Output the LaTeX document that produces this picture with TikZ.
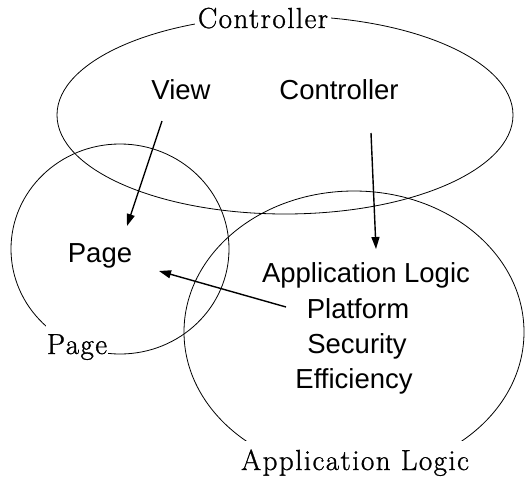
\documentclass[tikz,border=0pt]{standalone}
\usepackage{fontspec}
\newfontfamily\sansf{Liberation Sans}
\newfontfamily\serf[LetterSpace=5,FakeBold=1]{Latin Modern Roman}
\usetikzlibrary{arrows.meta}
\begin{document}
\begin{tikzpicture}[x=1pt,y=-1pt,
  ring/.style={draw=black,line width=0.8pt},
  serlab/.style={fill=white,font=\serf\fontsize{29}{33}\selectfont,anchor=base,inner ysep=9pt},
  txt/.style={font=\sansf\fontsize{27.5}{32}\selectfont,anchor=base,inner sep=0pt},
  arr/.style={line width=1.4pt,-{Triangle[length=12pt,width=8pt]}}]
\useasboundingbox (0,0) rectangle (532,479);
% ellipses
\draw[ring] (285,115) ellipse [x radius=228, y radius=99];
\draw[ring] (120,249) ellipse [x radius=109, y radius=105];
\draw[ring] (354,332) ellipse [x radius=170, y radius=141];
% group labels
\node[serlab,inner xsep=3pt] (lctrl) at (263,28) {Controller};
\node[serlab,inner xsep=1pt] (lpage) at (77,354) {Page};
\node[serlab,inner xsep=2pt] (lapp) at (355,470) {Application Logic};
% inner texts
\node[txt] (view) at (181,99) {View};
\node[txt] (ctrl) at (339,99) {Controller};
\node[txt] (page) at (100,262) {Page};
\node[txt] (app) at (366,282) {Application Logic};
\node[txt] (plat) at (358,318) {Platform};
\node[txt] (sec) at (357,353) {Security};
\node[txt] (eff) at (354,388) {Efficiency};
% arrow end points
\coordinate (v1) at (162,121);
\coordinate (v2) at (127,226);
\coordinate (c1) at (371,133);
\coordinate (c2) at (376,249);
\coordinate (p1) at (286,307);
\coordinate (p2) at (159,271);
\draw[arr] (v1) -- (v2);
\draw[arr] (c1) -- (c2);
\draw[arr] (p1) -- (p2);
\end{tikzpicture}
\end{document}
